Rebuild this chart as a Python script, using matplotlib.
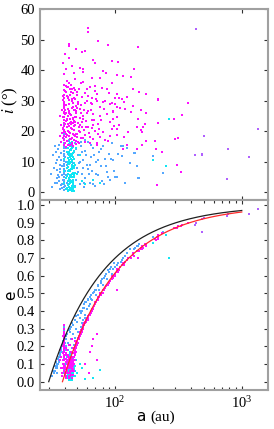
import numpy as np
import matplotlib
matplotlib.use("Agg")
import matplotlib.pyplot as plt
from matplotlib.ticker import LogLocator, LogFormatterMathtext, NullFormatter, FormatStrFormatter

###############################################################
#                       data (a [au], i [deg], e)
###############################################################
# magenta: high inclination objects
mag_a = [152, 94, 106, 115, 141, 134, 138, 156, 175, 220, 380, 103, 108, 113, 118, 124, 94, 100, 104, 110,
         97, 139, 160, 175, 294, 336, 220, 120, 133, 96, 104, 148, 160, 167, 164, 172, 127, 118, 103, 297,
         316, 175, 207, 125, 116, 150, 163, 209, 235, 307, 330, 213, 217, 218, 61, 61, 74, 88.5, 43.6, 43.2,
         49.3, 54.6, 58, 40.4, 43, 67.4, 69.5, 53, 56, 55.5, 81, 85, 76, 65.5, 103, 94, 39, 41, 39.5, 41.5,
         45.5, 47.5, 48.4, 60, 63.5, 69.5, 71.7, 78.5, 86, 60, 65.5, 70.8, 76, 83.4, 91.3, 100, 61.6, 67.4, 76, 86,
         97, 65.5, 74, 91.3, 61.6, 69.5, 81, 94, 76, 88.5, 63.5, 67.4, 71.7, 104, 153,
         39.4, 39.5, 39.3, 39.4, 39.6, 39.4, 39.3, 39.5, 39.4, 39.4, 39.6, 39.3, 39.4, 39.5, 39.4, 39.4, 39.6, 39.3,
         36.5, 37.2, 37.8, 38.2, 36.8, 38.5,
         40.5, 41.0, 41.5, 42.0, 42.5, 43.0, 43.5, 44.0, 44.5, 45.0, 45.5, 46.0, 46.5, 47.0, 47.5, 48.0, 48.5, 49.0,
         49.5, 50.5, 51.5, 52.5, 53.5, 54.5, 55.5, 56.5, 57.5, 42.2, 44.8, 41.2, 43.8, 46.8, 40.8, 42.8, 45.2, 47.8,
         50.0, 52.0, 44.2, 41.8, 43.3, 45.8, 48.8, 51.0, 53.0, 40.2, 40.0, 46.2, 58, 62, 66, 72]
mag_i = [47.6, 43.0, 42.7, 38.1, 40.3, 37.9, 33.8, 33.0, 32.3, 30.5, 29.3, 32.3, 31.0, 30.5, 29.7, 31.3, 29.4, 28.9, 28.0, 27.6,
         26.7, 28.3, 26.9, 25.8, 23.9, 25.3, 22.6, 27.3, 26.2, 24.0, 20.7, 21.5, 20.4, 21.3, 19.6, 22.4, 19.6, 18.2, 18.6, 17.5,
         17.8, 16.9, 16.6, 15.3, 14.2, 14.2, 15.5, 14.2, 13.1, 8.8, 6.5, 2.4, 22.7, 30.3, 53.8, 52.5, 49.7, 48.4, 48.6, 47.9,
         47.1, 46.0, 46.2, 45.2, 43.9, 43.5, 42.4, 40.8, 40.3, 39.4, 39.7, 39.2, 37.5, 37.5, 38.4, 35.9, 42.4, 40.3, 38.7, 36.5,
         41.4, 39.2, 37.0, 33.8, 34.5, 33.2, 32.1, 34.1, 33.8, 30.0, 28.9, 30.5, 27.8, 30.0, 28.9, 31.0, 26.7, 25.6, 25.1, 25.6,
         26.2, 23.5, 22.4, 22.9, 21.3, 20.2, 19.6, 20.7, 18.0, 16.9, 18.0, 17.5, 16.0, 24.5, 24.0,
         15.5, 17.2, 18.4, 19.6, 20.5, 21.7, 22.8, 23.5, 24.6, 25.8, 26.4, 27.5, 28.7, 29.6, 30.8, 32.0, 33.5, 35.1,
         18.5, 22.0, 16.5, 27.0, 25.0, 19.5,
         16.0, 18.2, 21.4, 24.1, 27.3, 30.2, 19.6, 22.8, 25.5, 17.3, 29.8, 20.7, 32.4, 23.9, 26.8, 18.5, 21.9, 28.2,
         24.6, 19.1, 22.6, 27.4, 17.8, 31.2, 25.0, 20.4, 29.1, 34.5, 35.2, 14.8, 15.6, 15.1, 28.5, 20.0, 23.0, 31.0,
         33.0, 16.2, 33.8, 31.5, 26.0, 27.5, 16.8, 29.5, 22.0, 22.3, 25.5, 18.9, 16.5, 19.5, 21.0, 15.5]
mag_e = [0.74, 0.58, 0.62, 0.66, 0.71, 0.70, 0.72, 0.74, 0.77, 0.82, 0.90, 0.62, 0.63, 0.66, 0.67, 0.69, 0.60, 0.61, 0.63, 0.65,
         0.60, 0.73, 0.75, 0.78, 0.87, 0.89, 0.83, 0.68, 0.70, 0.60, 0.64, 0.74, 0.76, 0.76, 0.75, 0.78, 0.70, 0.66, 0.62, 0.87,
         0.88, 0.78, 0.81, 0.69, 0.67, 0.74, 0.77, 0.80, 0.84, 0.87, 0.88, 0.82, 0.81, 0.82, 0.37, 0.35, 0.48, 0.55, 0.12, 0.10,
         0.22, 0.28, 0.33, 0.08, 0.11, 0.42, 0.44, 0.27, 0.30, 0.31, 0.52, 0.54, 0.50, 0.40, 0.62, 0.59, 0.20, 0.05, 0.25, 0.06,
         0.14, 0.18, 0.20, 0.36, 0.38, 0.45, 0.46, 0.50, 0.55, 0.35, 0.41, 0.45, 0.49, 0.53, 0.57, 0.60, 0.37, 0.42, 0.49, 0.55,
         0.59, 0.40, 0.47, 0.57, 0.36, 0.44, 0.52, 0.58, 0.49, 0.55, 0.17, 0.24, 0.27, 0.52, 0.70,
         0.22, 0.10, 0.28, 0.17, 0.24, 0.06, 0.30, 0.19, 0.12, 0.26, 0.21, 0.15, 0.32, 0.09, 0.23, 0.27, 0.14, 0.18,
         0.12, 0.08, 0.14, 0.05, 0.18, 0.03,
         0.04, 0.08, 0.12, 0.06, 0.10, 0.14, 0.02, 0.09, 0.05, 0.11, 0.13, 0.07, 0.16, 0.04, 0.10, 0.12, 0.15, 0.19,
         0.21, 0.23, 0.25, 0.27, 0.29, 0.30, 0.32, 0.33, 0.34, 0.08, 0.12, 0.03, 0.06, 0.09, 0.11, 0.14, 0.17, 0.18,
         0.22, 0.26, 0.10, 0.07, 0.13, 0.08, 0.20, 0.24, 0.28, 0.05, 0.09, 0.16, 0.10, 0.05, 0.20, 0.12]
# magenta, dense part of the belt
mag2_a = [38.8, 39.0, 39.2, 39.7, 40.1, 40.6, 41.1, 41.6, 42.1, 42.6, 43.1, 43.6, 44.1, 44.6, 45.1, 45.6, 46.1,
          46.6, 47.1, 47.6, 48.1, 48.6, 49.1, 49.6, 50.2, 51.2, 52.2, 53.2, 54.2, 55.2, 56.2, 57.2, 58.2, 59.5,
          62.5, 64.5, 68.5, 72.5, 38.9, 39.9, 40.9, 41.9, 42.9, 43.9, 44.9, 45.9, 46.9, 47.9, 48.9, 49.9]
mag2_i = [24.5, 31.5, 17.9, 28.3, 33.2, 19.8, 26.1, 34.6, 16.7, 22.2, 28.9, 18.3, 31.8, 20.9, 25.3, 33.9, 15.8,
          29.4, 21.6, 17.0, 24.8, 30.6, 19.2, 26.5, 31.9, 16.4, 20.0, 24.3, 28.6, 22.9, 17.6, 26.9, 32.7, 21.2,
          19.3, 27.1, 23.7, 29.9, 20.8, 27.7, 23.4, 18.7, 31.1, 24.0, 21.0, 16.1, 27.9, 23.3, 25.9, 18.0]
mag2_e = [0.16, 0.22, 0.08, 0.27, 0.13, 0.04, 0.19, 0.10, 0.07, 0.15, 0.03, 0.21, 0.12, 0.09, 0.17, 0.06, 0.24,
          0.11, 0.14, 0.19, 0.16, 0.18, 0.20, 0.17, 0.22, 0.24, 0.25, 0.27, 0.28, 0.30, 0.31, 0.32, 0.33, 0.35,
          0.38, 0.39, 0.43, 0.46, 0.26, 0.18, 0.13, 0.05, 0.11, 0.08, 0.14, 0.02, 0.12, 0.16, 0.21, 0.23]
mag3_a = [39.1, 39.8, 40.3, 40.7, 41.3, 41.7, 42.3, 42.7, 43.2, 43.7, 44.3, 44.7, 45.3, 45.7, 46.3, 46.7, 47.3, 47.7, 48.3, 48.7,
          49.3, 50.8, 51.8, 52.8, 53.8, 54.8, 55.8, 57.8, 59.0, 61.0, 63.0, 65.0, 67.0, 70.0, 73.0, 77.0, 80.0, 84.0, 90.0, 98.0,
          38.7, 40.0, 41.4, 42.4, 43.4, 44.4, 45.4, 46.4, 47.4, 48.4, 50.3, 52.3, 54.3, 56.3, 60.5, 66.0, 75.0, 82.5, 92.0, 108.0]
mag3_i = [21.1, 29.0, 25.7, 33.0, 18.9, 23.8, 30.9, 15.4, 35.8, 26.7, 19.3, 22.5, 32.8, 17.9, 24.4, 28.0, 34.2, 20.3, 27.0, 23.0,
          15.9, 28.8, 34.0, 19.7, 25.9, 21.5, 36.2, 18.7, 23.2, 31.5, 16.2, 29.2, 22.0, 35.0, 19.0, 23.6, 29.5, 17.2, 32.5, 21.7,
          30.2, 26.9, 34.8, 25.0, 21.8, 17.4, 30.7, 22.7, 18.8, 33.4, 27.6, 21.3, 35.7, 24.1, 25.8, 31.0, 20.6, 27.2, 18.5, 22.1]
mag3_e = [0.12, 0.20, 0.07, 0.15, 0.02, 0.18, 0.10, 0.05, 0.13, 0.08, 0.21, 0.04, 0.11, 0.16, 0.09, 0.19, 0.06, 0.14, 0.18, 0.23,
          0.19, 0.22, 0.24, 0.26, 0.27, 0.29, 0.31, 0.33, 0.34, 0.36, 0.38, 0.40, 0.41, 0.44, 0.46, 0.49, 0.50, 0.53, 0.56, 0.60,
          0.10, 0.04, 0.16, 0.09, 0.14, 0.03, 0.10, 0.07, 0.12, 0.17, 0.21, 0.25, 0.28, 0.30, 0.36, 0.40, 0.48, 0.52, 0.57, 0.63]

# light blue: low inclination, scattered
lb_a = [39.4, 39.5, 39.3, 39.4, 39.6, 39.4, 39.3, 39.5, 39.4, 39.4, 39.6, 39.3, 39.4, 39.5, 39.4, 39.4, 39.6, 39.3,
        39.4, 39.5, 39.4, 39.4, 39.4,
        33.6, 34.6, 36.4, 34.6, 35.5, 36.4, 37.3, 38.0, 36.0, 37.0, 35.0, 38.3, 37.6, 36.8, 38.6,
        40.5, 41.2, 41.8, 42.3, 42.8, 43.4, 44.0, 44.6, 45.2, 45.8, 46.4, 47.0, 47.6, 48.2, 40.2, 41.0, 43.0, 44.3,
        49, 50.5, 51.5, 52.5, 53.5, 54.5, 55.5, 56.5, 57.5, 58.5, 60, 61.5, 63, 64.5, 66, 67.5, 69, 71, 73, 75,
        77, 79, 81, 83, 86, 89, 92, 95, 52, 55, 58, 62, 65,
        97, 111, 116, 106, 113, 140, 145, 198, 148, 238, 156, 120, 100, 103, 151]
lb_i = [0.8, 1.6, 2.5, 3.3, 4.1, 5.0, 5.8, 6.7, 7.5, 8.4, 9.2, 10.1, 10.9, 11.8, 12.6, 13.5, 14.3, 15.2,
        16.0, 17.5, 19.0, 20.5, 22.0,
        15.0, 10.4, 11.5, 7.2, 5.5, 3.6, 2.2, 1.3, 4.8, 6.5, 2.8, 8.5, 12.8, 1.0, 4.0,
        2.0, 5.5, 9.0, 12.5, 15.5, 3.5, 7.0, 11.0, 14.0, 1.5, 6.0, 9.5, 13.0, 16.0, 11.5, 14.5, 16.8, 0.5,
        4.0, 8.0, 12.0, 2.5, 15.0, 6.0, 10.5, 1.5, 13.5, 4.5, 9.0, 16.5, 3.0, 11.5, 7.0, 14.5, 2.0, 10.0, 5.5, 13.0,
        8.5, 3.5, 15.0, 11.0, 6.5, 12.5, 4.0, 16.0, 9.5, 13.0, 17.0, 6.0, 15.5,
        10.4, 15.0, 15.0, 12.6, 11.7, 12.9, 12.9, 11.8, 8.6, 6.1, 4.7, 2.8, 5.0, 5.0, 4.5]
lb_e = [0.22, 0.10, 0.28, 0.15, 0.31, 0.07, 0.19, 0.25, 0.12, 0.29, 0.17, 0.05, 0.23, 0.32, 0.14, 0.20, 0.26, 0.09,
        0.30, 0.18, 0.24, 0.13, 0.21,
        0.06, 0.08, 0.12, 0.05, 0.10, 0.14, 0.17, 0.20, 0.11, 0.16, 0.09, 0.21, 0.19, 0.15, 0.23,
        0.15, 0.20, 0.12, 0.18, 0.22, 0.10, 0.16, 0.24, 0.08, 0.19, 0.27, 0.13, 0.21, 0.25, 0.09, 0.26, 0.05, 0.28,
        0.30, 0.34, 0.28, 0.36, 0.31, 0.40, 0.35, 0.42, 0.38, 0.45, 0.41, 0.47, 0.44, 0.49, 0.46, 0.50, 0.52, 0.49, 0.54, 0.52,
        0.56, 0.58, 0.55, 0.60, 0.58, 0.62, 0.64, 0.61, 0.25, 0.33, 0.36, 0.43, 0.47,
        0.64, 0.68, 0.70, 0.67, 0.69, 0.75, 0.76, 0.82, 0.77, 0.85, 0.78, 0.71, 0.65, 0.66, 0.77]
# light blue, band close to the q = 30 au curve
lb2_a = [31.5, 32.5, 33.5, 34.5, 35.5, 36.5, 37.5, 38.5, 32.0, 33.0, 34.0, 35.0, 36.0, 37.0, 38.0, 40.0, 41.0,
         42.0, 43.0, 44.0, 45.0, 46.0, 47.0, 48.0, 49.5, 51.0, 52.8, 54.0, 56.0, 57.0, 59.0, 61.0, 63.5, 66.5,
         68.5, 70.5, 74.0, 78.0, 82.0, 85.0, 88.0, 93.0, 98.0, 125, 132]
lb2_i = [6.0, 12.0, 3.0, 9.5, 14.0, 7.5, 10.5, 2.5, 1.8, 8.0, 13.0, 4.5, 15.5, 9.0, 5.5, 7.0, 10.0,
         3.0, 17.0, 12.0, 5.0, 15.0, 11.5, 2.0, 14.0, 6.5, 10.0, 16.5, 8.0, 3.0, 12.0, 7.5, 9.0, 2.5,
         12.0, 6.0, 10.5, 14.0, 2.5, 8.5, 5.0, 11.0, 7.0, 14.5, 9.5]
lb2_e = [0.03, 0.06, 0.09, 0.11, 0.13, 0.16, 0.18, 0.21, 0.03, 0.05, 0.08, 0.10, 0.12, 0.14, 0.17, 0.22, 0.24,
         0.27, 0.29, 0.30, 0.31, 0.33, 0.32, 0.35, 0.37, 0.38, 0.40, 0.39, 0.42, 0.44, 0.45, 0.46, 0.48, 0.50,
         0.51, 0.52, 0.55, 0.57, 0.59, 0.61, 0.63, 0.65, 0.67, 0.73, 0.75]

# cyan: cold classical belt and a few others
cy_a = [42.0, 42.3, 42.6, 42.9, 43.2, 43.5, 43.8, 44.1, 44.4, 44.7, 45.0, 45.3, 45.6, 45.9, 46.2, 46.5, 46.8, 47.1, 47.4,
        42.1, 42.4, 42.7, 43.0, 43.3, 43.6, 43.9, 44.2, 44.5, 44.8, 45.1, 45.4, 45.7, 46.0, 46.3, 46.6, 46.9, 47.2, 47.5,
        43.1, 44.3, 45.5, 44.0, 43.4, 46.1, 44.9, 45.8, 42.8, 47.0,
        39.4, 39.5, 39.4, 40.8, 41.5, 41.2,
        50, 58, 66.7, 76, 48.5, 53, 55, 49,
        265, 200, 253]
cy_i = [1.2, 3.5, 5.8, 8.1, 10.4, 12.7, 15.0, 0.6, 2.9, 5.2, 7.5, 9.8, 12.1, 14.4, 1.8, 4.1, 6.4, 8.7, 11.0,
        13.3, 0.3, 2.2, 4.5, 6.8, 9.1, 11.4, 13.7, 16.0, 1.4, 3.7, 6.0, 8.3, 10.6, 12.9, 0.9, 3.2, 5.5, 7.8,
        2.6, 4.8, 2.0, 9.5, 7.3, 5.0, 11.8, 0.4, 10.0, 2.5,
        3.0, 7.0, 11.0, 4.5, 8.0, 1.0,
        6.0, 2.5, 4.0, 3.0, 9.0, 12.0, 3.5, 14.5,
        23.9, 10.6, 8.6]
cy_e = [0.05, 0.02, 0.08, 0.11, 0.04, 0.07, 0.13, 0.03, 0.09, 0.06, 0.01, 0.10, 0.05, 0.12, 0.08, 0.03, 0.14, 0.06, 0.09,
        0.10, 0.06, 0.12, 0.01, 0.09, 0.05, 0.08, 0.02, 0.15, 0.07, 0.11, 0.04, 0.13, 0.02, 0.07, 0.10, 0.05, 0.16, 0.08,
        0.06, 0.04, 0.09, 0.07, 0.03, 0.06, 0.10, 0.04, 0.07, 0.11,
        0.12, 0.20, 0.08, 0.18, 0.14, 0.10,
        0.05, 0.015, 0.02, 0.066, 0.03, 0.10, 0.08, 0.12,
        0.70, 0.785, 0.83]
cy2_a = [42.2, 42.5, 42.8, 43.1, 43.4, 43.7, 44.0, 44.3, 44.6, 44.9, 45.2, 45.5, 45.8, 46.1, 46.4, 46.7, 47.0,
         47.3, 47.6, 42.35, 42.65, 42.95, 43.25, 43.55, 43.85, 44.15, 44.45, 44.75, 45.05, 45.35, 45.65, 45.95,
         46.25, 46.55, 46.85, 47.15, 47.45, 48.0, 48.3, 41.8]
cy2_i = [14.6, 9.2, 0.8, 12.3, 4.0, 15.8, 6.9, 1.1, 10.7, 13.9, 3.4, 8.9, 16.3, 7.7, 11.6, 2.7, 14.8,
         0.2, 4.9, 7.0, 11.2, 15.6, 1.6, 13.1, 5.6, 9.9, 3.9, 14.2, 12.6, 0.7, 10.3, 5.9,
         15.1, 8.0, 2.3, 13.4, 9.4, 6.2, 1.5, 5.2]
cy2_e = [0.04, 0.10, 0.07, 0.02, 0.13, 0.06, 0.09, 0.12, 0.03, 0.08, 0.05, 0.14, 0.01, 0.11, 0.06, 0.09, 0.04,
         0.12, 0.07, 0.15, 0.03, 0.08, 0.10, 0.05, 0.17, 0.02, 0.06, 0.11, 0.09, 0.04, 0.13, 0.07,
         0.05, 0.10, 0.08, 0.03, 0.12, 0.06, 0.09, 0.18]

# purple: very distant objects
pu_a = [438, 428, 489, 489, 501, 762, 774, 1142, 1352]
pu_i = [53.6, 12.0, 12.4, 12.0, 18.5, 4.2, 14.0, 11.6, 20.6]
pu_e = [0.90, 0.89, 0.85, 0.92, 0.93, 0.94, 0.95, 0.95, 0.98]

# constant perihelion curves q = a (1 - e)
q_black = 30.0
q_red = 38.5
a_max = 1000.0

###############################################################
#                           plot
###############################################################
plt.rcParams["font.family"] = ["Liberation Serif", "DejaVu Serif"]
plt.rcParams["mathtext.fontset"] = "stix"

fig = plt.figure(figsize=(2.74, 4.29), dpi=100)
ax1 = fig.add_axes([0.146, 0.534, 0.832, 0.444])
ax2 = fig.add_axes([0.146, 0.091, 0.832, 0.443], sharex=ax1)

groups = [
    (lb_a + lb2_a, lb_i + lb2_i, lb_e + lb2_e, "#55a8ff"),
    (cy_a + cy2_a, cy_i + cy2_i, cy_e + cy2_e, "#10e6f4"),
    (mag_a + mag2_a + mag3_a, mag_i + mag2_i + mag3_i, mag_e + mag2_e + mag3_e, "#ff10ff"),
    (pu_a, pu_i, pu_e, "#b060ff"),
]
for ga, gi, ge, col in groups:
    ax1.scatter(ga, gi, s=3.8, marker="s", color=col, linewidths=0, zorder=2)
    ax2.scatter(ga, ge, s=3.8, marker="s", color=col, linewidths=0, zorder=2)

ab = np.logspace(np.log10(q_black), np.log10(a_max), 200)
ar = np.logspace(np.log10(q_red), np.log10(a_max), 200)
ax2.plot(ab, 1 - q_black / ab, color="#202020", lw=0.9, zorder=3)
ax2.plot(ar, 1 - q_red / ar, color="#ff2a2a", lw=0.9, zorder=3)

ax1.set_xscale("log")
ax1.set_xlim(25.6, 1610)
ax1.set_ylim(-2.6, 60)
ax2.set_ylim(-0.047, 1.03)

ax1.set_yticks(range(0, 61, 10))
ax2.set_yticks(np.arange(0, 1.01, 0.1))
ax2.yaxis.set_major_formatter(FormatStrFormatter("%.1f"))
ax2.xaxis.set_major_locator(LogLocator(base=10, numticks=10))
ax2.xaxis.set_major_formatter(LogFormatterMathtext())
ax2.xaxis.set_minor_locator(LogLocator(base=10, subs=np.arange(2, 10), numticks=20))
ax2.xaxis.set_minor_formatter(NullFormatter())

for ax in (ax1, ax2):
    for sp in ax.spines.values():
        sp.set_color("#a0a0a0")
        sp.set_linewidth(1.5)
    ax.tick_params(which="both", direction="in", top=True, right=True, labelsize=10.5,
                   color="#303030", width=0.8)
    ax.tick_params(which="major", length=3)
    ax.tick_params(which="minor", length=2)
ax1.tick_params(axis="x", which="both", labelbottom=False)
ax1.tick_params(axis="x", which="minor", length=0)

# axis labels (mixed fonts, placed by hand)
fig.text(0.038, 0.767, r"$i$ (°)", rotation=90, fontsize=12, ha="center", va="center")
fig.text(0.038, 0.312, "e", rotation=90, fontsize=11, family="DejaVu Sans", ha="center", va="center")
fig.text(0.497, 0.018, "a", fontsize=11, family="DejaVu Sans", ha="left", va="baseline")
fig.text(0.547, 0.018, "(au)", fontsize=11, ha="left", va="baseline")

fig.savefig("out.png", dpi=100)
